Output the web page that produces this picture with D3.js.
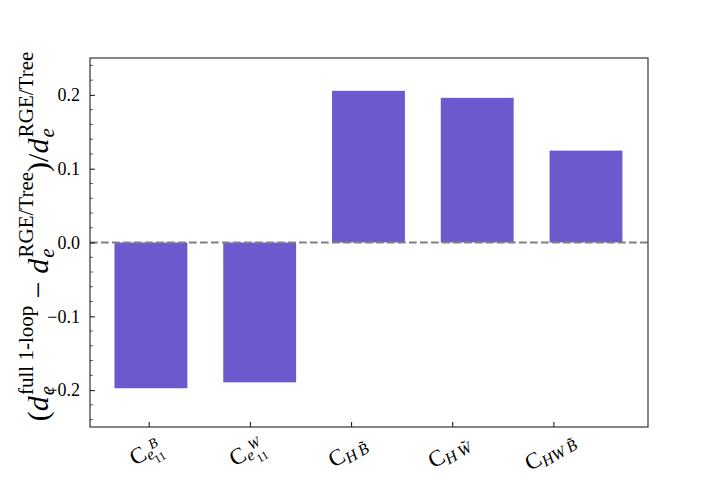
<!DOCTYPE html>
<html><head><meta charset="utf-8">
<script src="https://cdn.jsdelivr.net/npm/d3@7"></script>
<style>body{margin:0;background:#fff}text{font-family:"Liberation Serif","DejaVu Serif",serif}</style>
</head><body><svg id="c" width="720" height="480"></svg>
<script>
const categories = ["CeB11","CeW11","CHBt","CHWt","CHWBt"];
const values = [-0.1975, -0.1895, 0.2055, 0.196, 0.1245];
const tickPositions = [-0.02, 0.91, 1.84, 2.77, 3.70];
const yMajorTicks = [-0.2, -0.1, 0.0, 0.1, 0.2];
const yTickLabels = ["\u22120.2", "\u22120.1", "0.0", "0.1", "0.2"];
const xLabelParts = [
  {sub:"e", subSup:"B", subSub:"11"},
  {sub:"e", subSup:"W", subSub:"11"},
  {sub:"H\u2009B\u0303"},
  {sub:"H\u2009W\u0303"},
  {sub:"HW\u2009B\u0303"}
];

const svg = d3.select("#c");
const L=90, R=648, T=58, B=427;
const x = d3.scaleLinear().domain([-0.56, 4.57]).range([L, R]);
const y = d3.scaleLinear().domain([-0.25, 0.25]).range([B, T]);
const barW = 0.67;

svg.selectAll("rect.bar").data(values).join("rect")
  .attr("x", (d,i)=>x(i-barW/2)).attr("width", x(barW)-x(0))
  .attr("y", d=>y(Math.max(0,d))).attr("height", d=>Math.abs(y(d)-y(0)))
  .attr("fill", "#6a5acd");

svg.append("line").attr("x1", L).attr("x2", R).attr("y1", y(0)).attr("y2", y(0))
  .attr("stroke", "#808080").attr("stroke-width", 2).attr("stroke-dasharray", "7.7,3.3");

svg.append("rect").attr("x", L).attr("y", T).attr("width", R-L).attr("height", B-T)
  .attr("fill","none").attr("stroke","#222").attr("stroke-width",1.1);

const yAxis = d3.axisLeft(y).tickValues(yMajorTicks).tickSizeInner(-4.9).tickSizeOuter(0)
  .tickFormat((d,i)=>yTickLabels[i]).tickPadding(10);
const gy = svg.append("g").attr("transform",`translate(${L},0)`).call(yAxis);
gy.select(".domain").remove();
gy.selectAll("line").attr("stroke","#222").attr("stroke-width",1.1);
gy.selectAll("text").attr("font-size",18).attr("fill","#000");
const minor = d3.range(-0.24, 0.2401, 0.02).filter(v=>Math.abs(Math.round(v*10)-v*10)>1e-6);
svg.append("g").selectAll("line").data(minor).join("line")
  .attr("x1",L).attr("x2",L+2.8).attr("y1",d=>y(d)).attr("y2",d=>y(d))
  .attr("stroke","#222").attr("stroke-width",0.8);

const xAxis = d3.axisBottom(x).tickValues(tickPositions).tickSizeInner(-4.9).tickSizeOuter(0).tickFormat("");
const gx = svg.append("g").attr("transform",`translate(0,${B})`).call(xAxis);
gx.select(".domain").remove();
gx.selectAll("line").attr("stroke","#222").attr("stroke-width",1.1);

tickPositions.forEach((p,i)=>{
  const lp = xLabelParts[i];
  const cx = x(p), cy = 458;
  const t = svg.append("text").attr("x",cx).attr("y",cy)
    .attr("transform",`rotate(-30 ${cx} ${cy})`)
    .attr("text-anchor","middle").attr("font-size",23).attr("fill","#000");
  t.append("tspan").text("C");
  if (lp.subSup) {
    t.append("tspan").attr("font-size",16).attr("font-style","italic").attr("dy",3).text(lp.sub);
    t.append("tspan").attr("font-size",14).attr("font-style","italic").attr("dy",-9).text(lp.subSup);
    t.append("tspan").attr("font-size",12).attr("dx",-11).attr("dy",15).text(lp.subSub);
  } else {
    t.append("tspan").attr("font-size",16).attr("font-style","italic").attr("dy",4).text(lp.sub);
  }
});

const yl = svg.append("text").attr("transform",`translate(48,${(T+B)/2 - 6}) rotate(-90)`)
  .attr("text-anchor","middle").attr("font-size",30).attr("fill","#000");
yl.append("tspan").text("(");
yl.append("tspan").attr("font-style","italic").text("d");
yl.append("tspan").attr("font-style","italic").attr("font-size",21).attr("dx",1).attr("dy",6).text("e");
yl.append("tspan").attr("font-size",21).attr("dx",-9).attr("dy",-21).text("full 1-loop");
yl.append("tspan").attr("dy",15).text(" \u2212 ");
yl.append("tspan").attr("font-style","italic").text("d");
yl.append("tspan").attr("font-style","italic").attr("font-size",21).attr("dx",1).attr("dy",6).text("e");
yl.append("tspan").attr("font-size",21).attr("dx",-9).attr("dy",-21).text("RGE/Tree");
yl.append("tspan").attr("dy",15).text(")/");
yl.append("tspan").attr("font-style","italic").text("d");
yl.append("tspan").attr("font-style","italic").attr("font-size",21).attr("dx",1).attr("dy",6).text("e");
yl.append("tspan").attr("font-size",21).attr("dx",-9).attr("dy",-21).text("RGE/Tree");
</script></body></html>
